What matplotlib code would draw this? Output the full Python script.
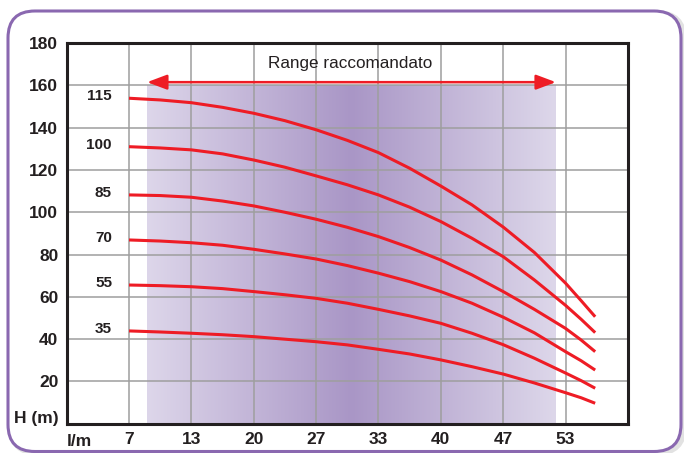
import numpy as np
import matplotlib
matplotlib.use("Agg")
import matplotlib.pyplot as plt
from matplotlib.patches import FancyBboxPatch
from matplotlib.colors import LinearSegmentedColormap

plt.rcParams['font.family'] = ['Liberation Sans', 'DejaVu Sans']

# data (flow in l/min, head in m)
flow = [6.67, 10.0, 13.33, 16.67, 20.0, 23.33, 26.67, 30.0, 33.33,
        36.67, 40.0, 43.33, 46.67, 50.0, 53.33, 55.0, 56.5]
curve_names = ["115", "100", "85", "70", "55", "35"]
h115 = [153.9, 153.1, 151.8, 149.6, 146.8, 143.3, 139.0, 134.0, 128.2,
        120.8, 112.4, 103.5, 93.0, 81.0, 66.5, 58.2, 50.6]
h100 = [131.0, 130.4, 129.5, 127.6, 124.7, 121.3, 117.2, 113.0, 108.2,
        102.4, 95.6, 87.7, 79.0, 68.0, 56.0, 49.4, 43.1]
h85 = [108.2, 107.9, 107.1, 105.3, 103.0, 100.0, 96.7, 92.9, 88.5,
       83.3, 77.4, 70.4, 62.5, 54.1, 45.1, 39.6, 34.1]
h70 = [86.9, 86.4, 85.6, 84.4, 82.5, 80.3, 77.9, 74.8, 71.2,
       67.2, 62.5, 57.0, 50.4, 43.0, 34.1, 29.8, 25.4]
h55 = [65.6, 65.3, 64.8, 63.9, 62.5, 61.0, 59.3, 57.0, 54.1,
       51.0, 47.5, 42.8, 37.4, 31.0, 24.0, 20.4, 16.8]
h35 = [43.9, 43.4, 42.8, 42.1, 41.2, 40.0, 38.8, 37.3, 35.2,
       33.0, 30.2, 27.0, 23.5, 19.3, 14.7, 12.3, 9.7]
curves = [h115, h100, h85, h70, h55, h35]

xtick_pos = [6.67, 13.33, 20.0, 26.67, 33.33, 40.0, 46.67, 53.33]
xtick_lab = ["7", "13", "20", "27", "33", "40", "47", "53"]
ytick_pos = [20, 40, 60, 80, 100, 120, 140, 160, 180]

range_lo, range_hi = 8.6, 52.3   # recommended range
range_top = 160

fig = plt.figure(figsize=(6.84, 4.53), dpi=100)

# rounded frame with soft shadow
shadow = FancyBboxPatch((0.11, 0.0), 6.73, 4.40, boxstyle="round,pad=0,rounding_size=0.27",
                        transform=fig.dpi_scale_trans, fc="none", ec="#e2e2e2", lw=4, zorder=0)
frame = FancyBboxPatch((0.08, 0.015), 6.73, 4.405, boxstyle="round,pad=0,rounding_size=0.27",
                       transform=fig.dpi_scale_trans, fc="white", ec="#8a68b0", lw=2.2, zorder=1)
fig.patches.append(shadow)
fig.patches.append(frame)

ax = fig.add_axes([0.0974, 0.0645, 0.8206, 0.8405])
ax.set_zorder(2)
ax.set_xlim(0, 60)
ax.set_ylim(0, 180)

# gradient shade
cmap = LinearSegmentedColormap.from_list("lav", ["#ddd6ea", "#a996c6", "#ddd7ea"])
grad = np.linspace(0, 1, 256).reshape(1, -1)
ax.imshow(grad, cmap=cmap, extent=[range_lo, range_hi, 0, range_top], aspect="auto",
          interpolation="bicubic", zorder=0)

# grid
for xp in xtick_pos:
    ax.axvline(xp, color="#9e9e9e", lw=1.1, zorder=1)
for yp in ytick_pos[:-1]:
    ax.axhline(yp, color="#9e9e9e", lw=1.1, zorder=1)

# curves
for name, h in zip(curve_names, curves):
    ax.plot(flow, h, color="#ee1c25", lw=2.2, solid_capstyle="butt",
            solid_joinstyle="round", zorder=3)
    ax.text(4.85, h[0] + 1.0, name, ha="right", va="center", fontsize=11,
            fontweight="bold", color="#231f20")

# range arrow
ax.annotate("", xy=(range_lo, 161.5), xytext=(range_hi, 161.5),
            arrowprops=dict(arrowstyle="<|-|>,head_length=1.2,head_width=0.45",
                            color="#ee1c25", lw=1.8, shrinkA=0, shrinkB=0), zorder=4)
ax.text(30.3, 170.4, "Range raccomandato", ha="center", va="center", fontsize=12.3,
        color="#231f20")

ax.set_xticks(xtick_pos)
ax.set_xticklabels(xtick_lab)
ax.set_yticks(ytick_pos)
ax.tick_params(length=0, labelsize=12.5, pad=6, colors="#231f20")
for lab in ax.get_xticklabels() + ax.get_yticklabels():
    lab.set_fontweight("bold")

ax.text(-0.9, 2.7, "H (m)", ha="right", va="center", fontsize=12.5, fontweight="bold",
        color="#231f20")
ax.text(0.0, -8.5, "l/m", ha="left", va="center", fontsize=12.5, fontweight="bold",
        color="#231f20")

for s in ax.spines.values():
    s.set_linewidth(2.2)
    s.set_color("#231f20")
    s.set_zorder(5)

plt.savefig("out.png", dpi=100)
